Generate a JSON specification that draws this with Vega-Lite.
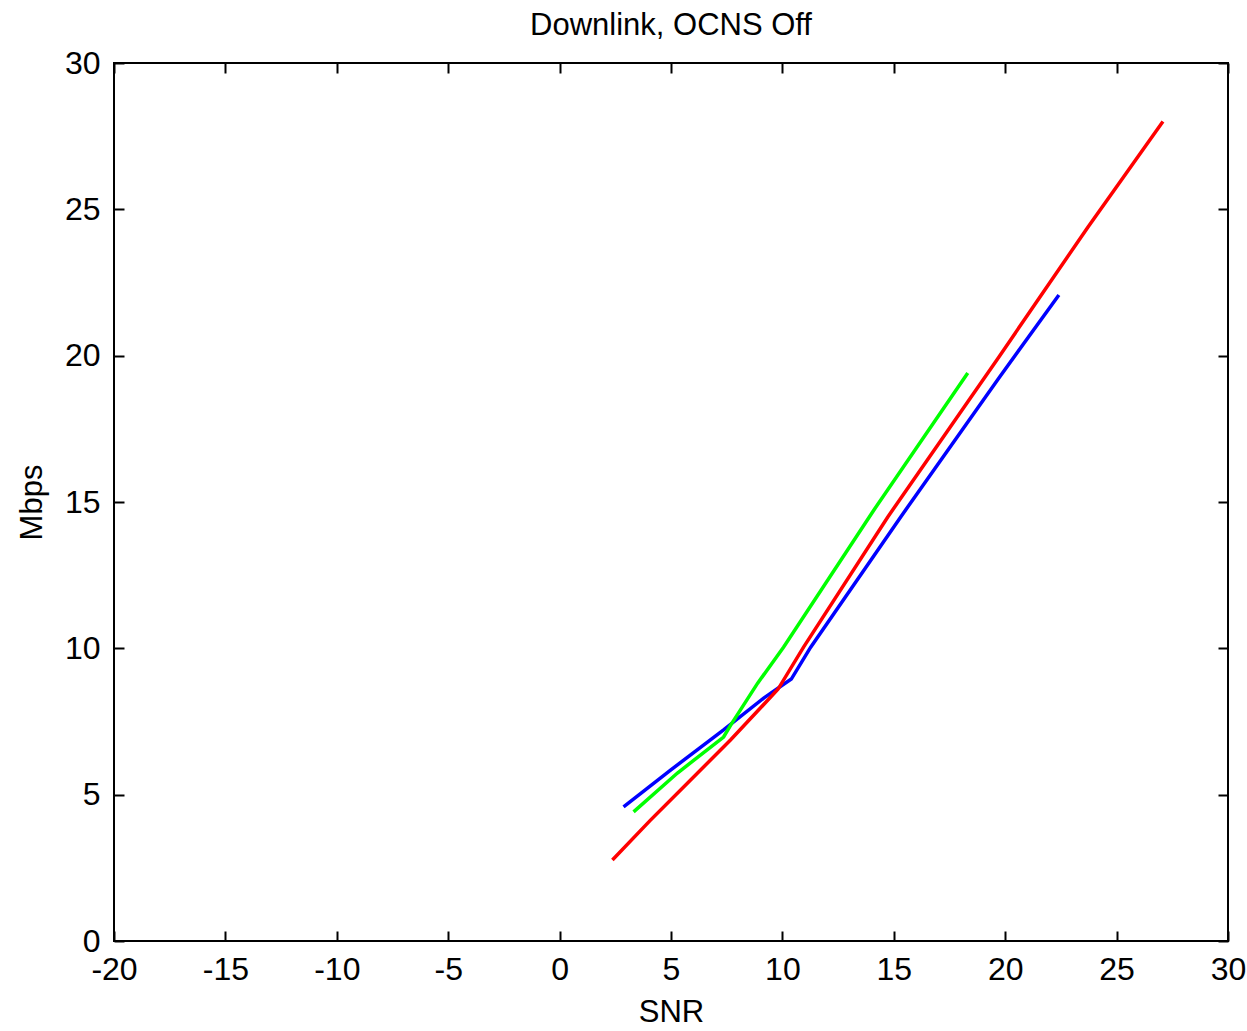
{
  "$schema": "https://vega.github.io/schema/vega-lite/v6.json",
  "width": 1114,
  "height": 878,
  "autosize": {"type": "none"},
  "padding": {"left": 114, "top": 63, "right": 19, "bottom": 90},
  "background": "white",
  "title": {"text": "Downlink, OCNS Off", "font": "Liberation Sans", "fontSize": 31, "fontWeight": "normal", "color": "#000000", "offset": 5},
  "config": {
    "view": {"stroke": "#000000", "strokeWidth": 2},
    "axis": {"grid": false, "domain": false, "tickColor": "#000000", "tickWidth": 2, "tickSize": -10,
      "labelFont": "Liberation Sans", "labelFontSize": 32, "labelColor": "#000000",
      "titleFont": "Liberation Sans", "titleFontSize": 31, "titleFontWeight": "normal", "titleColor": "#000000"}
  },
  "data": {"values": [
    {"series": "blue", "snr": 2.87, "mbps": 4.58},
    {"series": "blue", "snr": 4.98, "mbps": 5.84},
    {"series": "blue", "snr": 7.36, "mbps": 7.21},
    {"series": "blue", "snr": 9.16, "mbps": 8.3},
    {"series": "blue", "snr": 10.4, "mbps": 8.95},
    {"series": "blue", "snr": 11.27, "mbps": 10.04},
    {"series": "blue", "snr": 15.31, "mbps": 14.49},
    {"series": "blue", "snr": 19.71, "mbps": 19.23},
    {"series": "blue", "snr": 22.41, "mbps": 22.07},
    {"series": "green", "snr": 3.32, "mbps": 4.41},
    {"series": "green", "snr": 5.29, "mbps": 5.74},
    {"series": "green", "snr": 7.36, "mbps": 6.97},
    {"series": "green", "snr": 7.7, "mbps": 7.4},
    {"series": "green", "snr": 8.89, "mbps": 8.81},
    {"series": "green", "snr": 10.05, "mbps": 10.04},
    {"series": "green", "snr": 14.1, "mbps": 14.72},
    {"series": "green", "snr": 18.32, "mbps": 19.41},
    {"series": "red", "snr": 2.37, "mbps": 2.77},
    {"series": "red", "snr": 4.08, "mbps": 4.13},
    {"series": "red", "snr": 5.88, "mbps": 5.5},
    {"series": "red", "snr": 7.67, "mbps": 6.87},
    {"series": "red", "snr": 9.8, "mbps": 8.6},
    {"series": "red", "snr": 10.95, "mbps": 10.04},
    {"series": "red", "snr": 14.73, "mbps": 14.49},
    {"series": "red", "snr": 19.71, "mbps": 19.95},
    {"series": "red", "snr": 23.71, "mbps": 24.39},
    {"series": "red", "snr": 27.08, "mbps": 28.0}
  ]},
  "layer": [
    {
      "mark": {"type": "line", "strokeWidth": 3.5},
      "encoding": {
        "x": {"field": "snr", "type": "quantitative", "title": "SNR",
          "scale": {"domain": [-20, 30], "nice": false, "zero": false},
          "axis": {"orient": "bottom", "values": [-20, -15, -10, -5, 0, 5, 10, 15, 20, 25, 30], "labelExpr": "'' + datum.value", "labelPadding": 23, "titlePadding": 12, "labelFlush": false}},
        "y": {"field": "mbps", "type": "quantitative", "title": "Mbps",
          "scale": {"domain": [0, 30], "nice": false, "zero": false},
          "axis": {"orient": "left", "values": [0, 5, 10, 15, 20, 25, 30], "labelExpr": "'' + datum.value", "labelPadding": 24, "titlePadding": 16, "labelFlush": false}},
        "color": {"field": "series", "type": "nominal", "legend": null,
          "scale": {"domain": ["blue", "green", "red"], "range": ["#0000ff", "#00ff00", "#ff0000"]}}
      }
    },
    {
      "mark": {"type": "point", "opacity": 0},
      "encoding": {
        "x": {"field": "snr", "type": "quantitative",
          "axis": {"orient": "top", "values": [-20, -15, -10, -5, 0, 5, 10, 15, 20, 25, 30], "labels": false, "title": null}},
        "y": {"field": "mbps", "type": "quantitative",
          "axis": {"orient": "right", "values": [0, 5, 10, 15, 20, 25, 30], "labels": false, "title": null}}
      }
    }
  ],
  "resolve": {"axis": {"x": "independent", "y": "independent"}}
}
